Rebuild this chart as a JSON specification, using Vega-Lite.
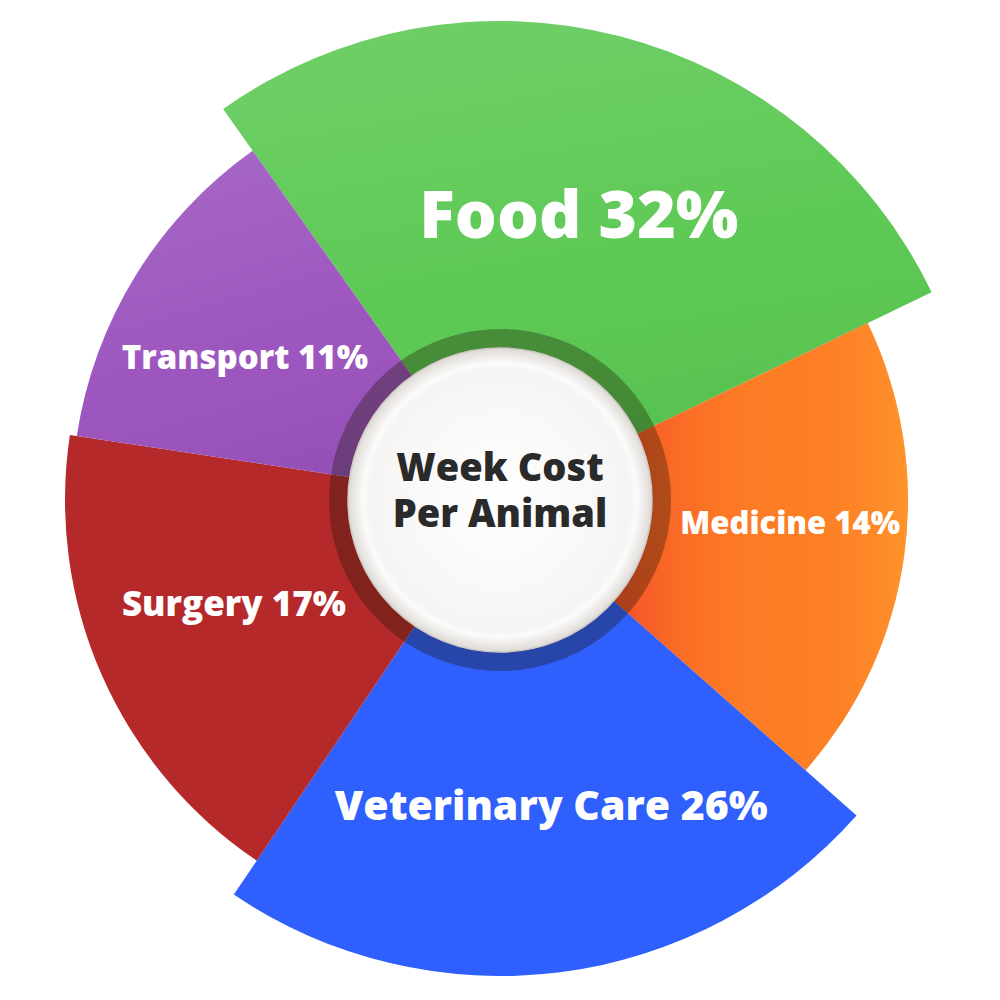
{
  "$schema": "https://vega.github.io/schema/vega-lite/v6.json",
  "width": 1000,
  "height": 1000,
  "autosize": {"type": "fit", "contains": "padding"},
  "padding": 0,
  "background": "#ffffff",
  "config": {"view": {"stroke": null}, "text": {"font": "Open Sans", "fontWeight": 800, "fill": "#ffffff", "align": "center", "baseline": "middle"}},
  "data": {
    "values": [
      {"category": "Food", "label": "Food 32%", "share": 32, "arc": 99.6, "reach": 479, "rank": 1},
      {"category": "Medicine", "label": "Medicine 14%", "share": 14, "arc": 67.2, "reach": 408, "rank": 2},
      {"category": "Veterinary Care", "label": "Veterinary Care 26%", "share": 26, "arc": 82.5, "reach": 476, "rank": 3},
      {"category": "Surgery", "label": "Surgery 17%", "share": 17, "arc": 64.6, "reach": 435, "rank": 4},
      {"category": "Transport", "label": "Transport 11%", "share": 11, "arc": 46.1, "reach": 428, "rank": 5}
    ]
  },
  "layer": [
    {
      "transform": [{"stack": "arc", "groupby": [], "sort": [{"field": "rank", "order": "ascending"}], "as": ["a0", "a1"]}],
      "mark": {"type": "arc", "innerRadius": 150},
      "encoding": {
        "theta": {"field": "a0", "type": "quantitative", "scale": {"domain": [0, 360], "range": [-0.6161, 5.6671]}},
        "theta2": {"field": "a1"},
        "radius": {"field": "reach", "type": "quantitative", "scale": {"type": "linear", "domain": [0, 500], "range": [0, 500], "zero": true}},
        "color": {
          "field": "category", "type": "nominal", "legend": null,
          "scale": {"domain": ["Food", "Medicine", "Veterinary Care", "Surgery", "Transport"], "range": ["#5bc852", "#fd7d25", "#2f5ffc", "#b5292b", "#9b53be"]}
        }
      }
    },
    {
      "transform": [
        {"stack": "arc", "groupby": [], "sort": [{"field": "rank", "order": "ascending"}], "as": ["a0", "a1"]},
        {"filter": "datum.category === 'Medicine'"}
      ],
      "mark": {
        "type": "arc", "innerRadius": 150,
        "fill": {"gradient": "linear", "x1": 0, "y1": 0.5, "x2": 1, "y2": 0.5,
          "stops": [{"offset": 0, "color": "rgba(235,45,45,0.6)"}, {"offset": 0.3, "color": "rgba(245,80,40,0.25)"}, {"offset": 0.6, "color": "rgba(255,130,40,0)"}, {"offset": 1, "color": "rgba(255,175,50,0.45)"}]}
      },
      "encoding": {
        "theta": {"field": "a0", "type": "quantitative"},
        "theta2": {"field": "a1"},
        "radius": {"field": "reach", "type": "quantitative"}
      }
    },
    {
      "transform": [
        {"stack": "arc", "groupby": [], "sort": [{"field": "rank", "order": "ascending"}], "as": ["a0", "a1"]},
        {"filter": "datum.category === 'Food' || datum.category === 'Transport'"}
      ],
      "mark": {
        "type": "arc", "innerRadius": 150,
        "fill": {"gradient": "linear", "x1": 0.3, "y1": 0, "x2": 0.6, "y2": 1,
          "stops": [{"offset": 0, "color": "rgba(255,255,255,0.12)"}, {"offset": 0.6, "color": "rgba(255,255,255,0.02)"}, {"offset": 1, "color": "rgba(0,0,0,0.04)"}]}
      },
      "encoding": {
        "theta": {"field": "a0", "type": "quantitative"},
        "theta2": {"field": "a1"},
        "radius": {"field": "reach", "type": "quantitative"}
      }
    },
    {
      "mark": {"type": "arc", "innerRadius": 148, "radius": 171, "color": "#1a1400", "opacity": 0.33},
      "encoding": {
        "theta": {"field": "arc", "type": "quantitative", "stack": true},
        "order": {"field": "rank", "type": "quantitative"}
      }
    },
    {
      "data": {"values": [{"centre": "Week Cost Per Animal"}]},
      "mark": {
        "type": "arc", "radius": 152, "theta": 0, "theta2": 6.2832,
        "fill": {"gradient": "radial", "x1": 0.5, "y1": 0.5, "x2": 0.5, "y2": 0.5, "r1": 0, "r2": 0.5,
          "stops": [{"offset": 0, "color": "#ffffff"}, {"offset": 0.86, "color": "#f6f5f4"}, {"offset": 0.9, "color": "#fbfbfa"}, {"offset": 1, "color": "#dedad6"}]},
        "stroke": "#cfcac4", "strokeWidth": 1.5
      },
      "encoding": {}
    },
    {
      "mark": {"type": "text", "radius": 295, "fontSize": 66, "dx": 5, "dy": 4},
      "encoding": {
        "theta": {"field": "arc", "type": "quantitative", "stack": true},
        "order": {"field": "rank", "type": "quantitative"},
        "text": {"condition": {"test": "datum.category === 'Food'", "field": "label"}, "value": ""}
      }
    },
    {
      "mark": {"type": "text", "radius": 295, "fontSize": 31, "dx": -2, "dy": -16},
      "encoding": {
        "theta": {"field": "arc", "type": "quantitative", "stack": true},
        "order": {"field": "rank", "type": "quantitative"},
        "text": {"condition": {"test": "datum.category === 'Medicine'", "field": "label"}, "value": ""}
      }
    },
    {
      "mark": {"type": "text", "radius": 295, "fontSize": 41, "dx": 14, "dy": 15},
      "encoding": {
        "theta": {"field": "arc", "type": "quantitative", "stack": true},
        "order": {"field": "rank", "type": "quantitative"},
        "text": {"condition": {"test": "datum.category === 'Veterinary Care'", "field": "label"}, "value": ""}
      }
    },
    {
      "mark": {"type": "text", "radius": 295, "fontSize": 35, "dx": 4, "dy": -14},
      "encoding": {
        "theta": {"field": "arc", "type": "quantitative", "stack": true},
        "order": {"field": "rank", "type": "quantitative"},
        "text": {"condition": {"test": "datum.category === 'Surgery'", "field": "label"}, "value": ""}
      }
    },
    {
      "mark": {"type": "text", "radius": 295, "fontSize": 33, "dx": -4, "dy": 14},
      "encoding": {
        "theta": {"field": "arc", "type": "quantitative", "stack": true},
        "order": {"field": "rank", "type": "quantitative"},
        "text": {"condition": {"test": "datum.category === 'Transport'", "field": "label"}, "value": ""}
      }
    },
    {
      "data": {"values": [{"centre": "Week Cost Per Animal"}]},
      "mark": {"type": "text", "fontSize": 38, "lineHeight": 46, "fill": "#2a2a2a", "dy": -30},
      "encoding": {
        "text": {"value": ["Week Cost", "Per Animal"]},
        "theta": {"value": 0},
        "radius": {"value": 0}
      }
    }
  ]
}
